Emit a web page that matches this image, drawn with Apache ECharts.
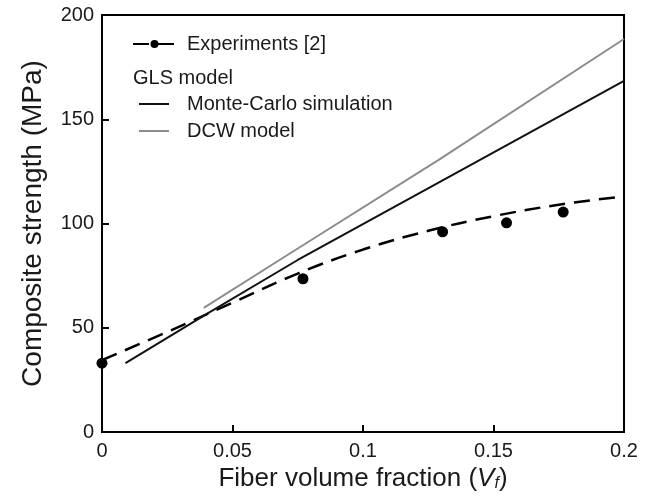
<!DOCTYPE html>
<html>
<head>
<meta charset="utf-8">
<script src="https://cdn.jsdelivr.net/npm/echarts@6/dist/echarts.min.js"></script>
<style>
  html, body { margin: 0; padding: 0; background: #fff; }
  #chart { width: 650px; height: 500px; }
</style>
</head>
<body>
<div id="chart"></div>
<script>
(function () {
  "use strict";

  // experimental points [Vf, MPa]
  var expPoints = [[0, 33], [0.077, 73.5], [0.1305, 96], [0.155, 100.3], [0.1767, 105.5]];
  // dashed fit through the experiments
  var expFit = [[0, 34.5], [0.025, 48], [0.05, 62], [0.075, 76], [0.1, 87.5],
    [0.125, 96.5], [0.15, 103.5], [0.175, 109], [0.2, 113]];
  // GLS model curves
  var monteCarlo = [[0.009, 33], [0.04, 56.5], [0.075, 82.5], [0.145, 130.6], [0.2, 168.4]];
  var dcwModel = [[0.039, 59.5], [0.075, 88], [0.129, 130.5], [0.2, 188.5]];
  var xTicks = [0, 0.05, 0.1, 0.15, 0.2];

  var font = "Liberation Sans, Arial, sans-serif";
  var ink = "#1a1a1a";
  var chart = echarts.init(document.getElementById("chart"));

  chart.setOption({
    animation: false,
    textStyle: { fontFamily: font },
    grid: {
      left: 102, right: 26, top: 15, bottom: 68,
      show: true, borderColor: "#000", borderWidth: 2, backgroundColor: "transparent"
    },
    title: {
      text: "GLS model",
      left: 133, top: 68, padding: 0,
      textStyle: { fontFamily: font, fontSize: 20, fontWeight: "normal", color: ink }
    },
    legend: [
      {
        data: ["Experiments [2]"],
        left: 127, top: 29, itemWidth: 43, itemHeight: 10,
        textStyle: { fontFamily: font, fontSize: 20, color: ink, padding: [0, 0, 0, 6] }
      },
      {
        data: [
          { name: "Monte-Carlo simulation", itemStyle: { opacity: 0 } },
          { name: "DCW model", itemStyle: { opacity: 0 } }
        ],
        orient: "vertical",
        left: 133, top: 89, itemWidth: 30, itemHeight: 10, itemGap: 7,
        textStyle: { fontFamily: font, fontSize: 20, color: ink, padding: [0, 0, 0, 13] }
      }
    ],
    xAxis: {
      type: "value",
      min: 0, max: 0.2, interval: 0.05,
      name: "Fiber volume fraction ({i|V}{s|f})",
      nameLocation: "middle", nameGap: 31,
      nameTextStyle: {
        fontFamily: font, fontSize: 26, color: ink,
        rich: {
          i: { fontFamily: font, fontSize: 26, fontStyle: "italic", color: ink },
          s: { fontFamily: font, fontSize: 16, fontStyle: "italic", color: ink, verticalAlign: "bottom", padding: [10, 0, 0, 0] }
        }
      },
      axisLine: { lineStyle: { color: "#000", width: 2 } },
      axisTick: { inside: true, length: 7, lineStyle: { color: "#000", width: 2 } },
      axisLabel: {
        fontFamily: font, fontSize: 20, color: ink, margin: 9,
        customValues: xTicks,
        formatter: function (v) { return String(+v.toFixed(2)); }
      },
      splitLine: { show: false }
    },
    yAxis: {
      type: "value",
      min: 0, max: 200, interval: 50,
      name: "Composite strength (MPa)",
      nameLocation: "middle", nameGap: 55,
      nameTextStyle: { fontFamily: font, fontSize: 28, color: ink },
      axisLine: { lineStyle: { color: "#000", width: 2 } },
      axisTick: { inside: true, length: 7, lineStyle: { color: "#000", width: 2 } },
      axisLabel: { fontFamily: font, fontSize: 20, color: ink, margin: 8 },
      splitLine: { show: false }
    },
    series: [
      {
        name: "Experiments [2]",
        type: "line",
        data: expFit,
        smooth: 0.4,
        symbol: "circle",
        symbolSize: 10,
        showSymbol: false,
        itemStyle: { color: "#000" },
        lineStyle: { color: "#000", width: 2.5, type: [16, 9] },
        z: 3
      },
      {
        name: "Experiments points",
        type: "scatter",
        data: expPoints,
        symbol: "circle",
        symbolSize: 11,
        itemStyle: { color: "#000", opacity: 1 },
        z: 4
      },
      {
        name: "Monte-Carlo simulation",
        type: "line",
        data: monteCarlo,
        showSymbol: false,
        symbol: "none",
        itemStyle: { color: "#111" },
        lineStyle: { color: "#111", width: 2 }
      },
      {
        name: "DCW model",
        type: "line",
        data: dcwModel,
        showSymbol: false,
        symbol: "none",
        itemStyle: { color: "#8c8c8c" },
        lineStyle: { color: "#8c8c8c", width: 2 }
      }
    ]
  });
})();
</script>
</body>
</html>
